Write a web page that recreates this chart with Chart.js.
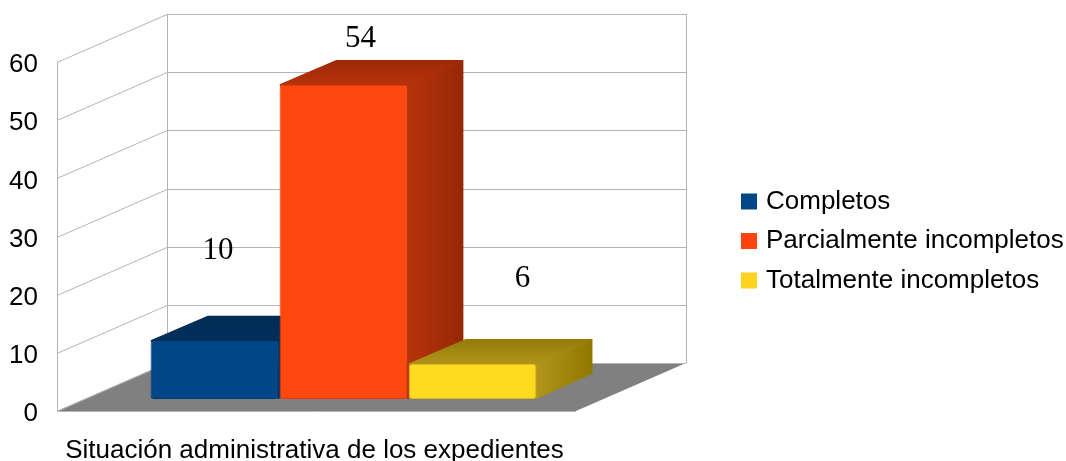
<!DOCTYPE html>
<html>
<head>
<meta charset="utf-8">
<script src="https://cdn.jsdelivr.net/npm/chart.js@4/dist/chart.umd.min.js"></script>
<style>
  body { margin: 0; background: #fff; }
  canvas { display: block; }
</style>
</head>
<body>
<canvas id="expedientes" width="1066" height="461"></canvas>
<script>
const categories = ["Situación administrativa de los expedientes"];
const seriesNames = ["Completos", "Parcialmente incompletos", "Totalmente incompletos"];
const seriesValues = [[10], [54], [6]];
const seriesColors = ["#004586", "#ff420e", "#ffd320"];
const frontColors = ["#004788", "#ff480e", "#ffdb1f"];
const edgeColors = ["#003a73", "#e63a0c", "#e0b81c"];
const sideColors = [["#003766", "#002a50"], ["#b8330c", "#952804"], ["#b0951a", "#8f7800"]];
const topColors = [["#002c54", "#00305c"], ["#9c2a06", "#b8330c"], ["#937b08", "#b0951a"]];
const yTicks = [0, 10, 20, 30, 40, 50, 60];

// depth of the box the chart sits in, and where the bars stand inside it
const boxDepth = { x: 110, y: -48 };
const barShift = { x: 27, y: -12 };
const barDepth = { x: 56, y: -25 };
// the value labels float away from their bars in the original
const labelShift = [{ x: 3.5, y: -90 }, { x: 17, y: -46 }, { x: 50, y: -85 }];

const line = (ctx, x1, y1, x2, y2) => {
  ctx.beginPath();
  ctx.moveTo(x1, y1);
  ctx.lineTo(x2, y2);
  ctx.stroke();
};

const polygon = (ctx, points, fill) => {
  ctx.beginPath();
  points.forEach((p, i) => (i ? ctx.lineTo(p[0], p[1]) : ctx.moveTo(p[0], p[1])));
  ctx.closePath();
  ctx.fillStyle = fill;
  ctx.strokeStyle = fill;
  ctx.lineWidth = 2;
  ctx.lineJoin = "round";
  ctx.fill();
  ctx.stroke();
};

const box3d = {
  id: "box3d",
  afterLayout(chart) {
    // chart area is held to the box floor, the legend sits further right
    const legend = chart.legend;
    const h = legend.bottom - legend.top;
    legend.left = 731.5;
    legend.right = 1066;
    legend.top = 241 - h / 2;
    legend.bottom = 241 + h / 2;
  },
  beforeDatasetsDraw(chart) {
    const { ctx, chartArea, scales } = chart;
    const { left, right } = chartArea;
    const y = scales.y;
    const y0 = y.getPixelForValue(0);
    const yMax = y.getPixelForValue(yTicks[yTicks.length - 1]);

    ctx.save();
    // floor
    ctx.beginPath();
    ctx.moveTo(left, y0);
    ctx.lineTo(right, y0);
    ctx.lineTo(right + boxDepth.x, y0 + boxDepth.y);
    ctx.lineTo(left + boxDepth.x, y0 + boxDepth.y);
    ctx.closePath();
    ctx.fillStyle = "#808080";
    ctx.fill();
    // grid on left and back wall
    ctx.strokeStyle = "#b3b3b3";
    ctx.lineWidth = 1;
    yTicks.forEach((v) => {
      const py = Math.round(y.getPixelForValue(v)) + 0.5;
      line(ctx, left, py, left + boxDepth.x, py + boxDepth.y);
      line(ctx, left + boxDepth.x, py + boxDepth.y, right + boxDepth.x, py + boxDepth.y);
    });
    line(ctx, left + 0.5, yMax, left + 0.5, y0);
    line(ctx, left + boxDepth.x + 0.5, yMax + boxDepth.y, left + boxDepth.x + 0.5, y0 + boxDepth.y);
    line(ctx, right + boxDepth.x + 0.5, yMax + boxDepth.y, right + boxDepth.x + 0.5, y0 + boxDepth.y);
    line(ctx, left, y0 + 0.5, right, y0 + 0.5);
    ctx.restore();

    ctx.save();
    ctx.translate(barShift.x, barShift.y);
    seriesNames.forEach((name, i) => {
      const bar = chart.getDatasetMeta(i).data[0];
      const x1 = bar.x - bar.width / 2;
      const x2 = bar.x + bar.width / 2;
      const top = bar.y;
      const base = bar.base;

      const sideFill = ctx.createLinearGradient(x2, 0, x2 + barDepth.x, 0);
      sideFill.addColorStop(0, sideColors[i][0]);
      sideFill.addColorStop(1, sideColors[i][1]);
      polygon(ctx, [
        [x2, top],
        [x2 + barDepth.x - 1, top + barDepth.y + 1],
        [x2 + barDepth.x - 1, base + barDepth.y - 1],
        [x2, base - 1],
      ], sideFill);

      const topFill = ctx.createLinearGradient(0, top + barDepth.y, 0, top);
      topFill.addColorStop(0, topColors[i][0]);
      topFill.addColorStop(1, topColors[i][1]);
      polygon(ctx, [
        [x1 + 1, top],
        [x1 + barDepth.x + 1, top + barDepth.y + 1],
        [x2 + barDepth.x - 1, top + barDepth.y + 1],
        [x2, top],
      ], topFill);
    });
    // the translate stays on for the bars, afterDatasetsDraw takes it off
  },
  afterDatasetsDraw(chart) {
    const { ctx } = chart;
    ctx.restore();
    ctx.save();
    ctx.fillStyle = "#000";
    ctx.font = "31px 'Liberation Serif'";
    ctx.textAlign = "center";
    ctx.textBaseline = "middle";
    seriesValues.forEach((values, i) => {
      const bar = chart.getDatasetMeta(i).data[0];
      ctx.fillText(values[0], bar.x + barShift.x + labelShift[i].x, bar.y + barShift.y + labelShift[i].y);
    });
    ctx.restore();
  },
};

const chartFont = { family: "'Liberation Sans'", size: 26 };

new Chart(document.getElementById("expedientes"), {
  type: "bar",
  plugins: [box3d],
  data: {
    labels: categories,
    datasets: seriesNames.map((name, i) => ({
      label: name,
      data: seriesValues[i],
      backgroundColor: frontColors[i],
      borderColor: edgeColors[i],
      borderWidth: 1,
      borderRadius: 3,
      borderSkipped: false,
      clip: false,
    })),
  },
  options: {
    responsive: false,
    animation: false,
    events: [],
    barPercentage: 0.99,
    categoryPercentage: 0.746,
    layout: { padding: { top: 62, right: 290 } },
    scales: {
      x: {
        grid: { display: false, drawTicks: false },
        border: { display: false },
        ticks: { color: "#000", font: chartFont, padding: 24, labelOffset: -2, maxRotation: 0 },
        afterFit: (scale) => { scale.height = 50; },
      },
      y: {
        min: 0,
        max: 60,
        grid: { display: false, drawTicks: false },
        border: { display: false },
        ticks: { color: "#000", font: chartFont, padding: 19, labelOffset: 3, stepSize: 10 },
        afterFit: (scale) => { scale.width = 57; },
      },
    },
    plugins: {
      tooltip: { enabled: false },
      legend: {
        position: "right",
        maxWidth: 200,
        labels: {
          color: "#000",
          font: chartFont,
          boxWidth: 8,
          boxHeight: 8,
          padding: 13.5,
          generateLabels: (chart) =>
            Chart.defaults.plugins.legend.labels.generateLabels(chart).map((item, i) => ({
              ...item,
              fillStyle: seriesColors[i],
              strokeStyle: seriesColors[i],
              lineWidth: 8,
            })),
        },
      },
    },
  },
});
</script>
</body>
</html>
